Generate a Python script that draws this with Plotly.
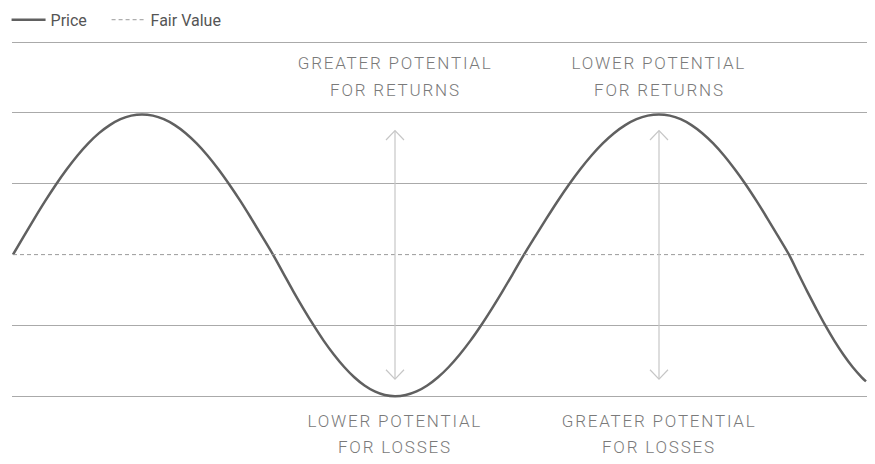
import plotly.graph_objects as go

# ---- data (x in chart units, y relative to fair value) ----
price_x = [0, 10.75, 21.5, 32.25, 43, 53.75, 64.5, 75.25, 86, 96.75, 107.5, 118.25,
           129, 139.9, 150.8, 161.8, 172.7, 183.6, 194.5, 205.4, 216.3, 227.3, 238.2, 249.1,
           260, 270.2, 280.3, 290.5, 300.7, 310.8, 321, 331.2, 341.3, 351.5, 361.7, 371.8,
           382, 392.75, 403.5, 414.25, 425, 435.75, 446.5, 457.25, 468, 478.75, 489.5, 500.25,
           511, 522.25, 533.5, 544.75, 556, 567.25, 578.5, 589.75, 601, 612.25, 623.5, 634.75,
           646, 656.8, 667.7, 678.5, 689.3, 700.2, 711, 721.8, 732.7, 743.5, 754.3, 765.2,
           776, 785.1, 794.2, 803.3, 812.3, 821.4, 830.5, 839.6, 848.7, 853]
price_y = [0, 0.258, 0.512, 0.758, 0.990, 1.205, 1.400, 1.571, 1.715, 1.829, 1.913, 1.963,
           1.980, 1.963, 1.913, 1.829, 1.715, 1.571, 1.400, 1.205, 0.990, 0.758, 0.512, 0.258,
           0, -0.261, -0.518, -0.765, -1.0, -1.218, -1.414, -1.587, -1.732, -1.848, -1.932, -1.983,
           -2.0, -1.983, -1.932, -1.848, -1.732, -1.587, -1.414, -1.218, -1.0, -0.765, -0.518, -0.261,
           0, 0.258, 0.512, 0.758, 0.990, 1.205, 1.400, 1.571, 1.715, 1.829, 1.913, 1.963,
           1.980, 1.963, 1.913, 1.829, 1.715, 1.571, 1.400, 1.205, 0.990, 0.758, 0.512, 0.258,
           0, -0.261, -0.518, -0.765, -1.0, -1.218, -1.414, -1.587, -1.732, -1.79]

fair_x = [0, 862]
fair_y = [0, 0]

grid_levels = [-2, -1, 1, 2, 3]

arrow_x = [382, 646]
arrow_top = 1.75
arrow_bottom = -1.757

top_labels = [["GREATER POTENTIAL", "FOR RETURNS"], ["LOWER POTENTIAL", "FOR RETURNS"]]
bottom_labels = [["LOWER POTENTIAL", "FOR LOSSES"], ["GREATER POTENTIAL", "FOR LOSSES"]]
top_label_y = [2.71, 2.32]
bottom_label_y = [-2.345, -2.72]

# ---- style ----
CURVE = "#606060"
DASH = "#9a9a9a"
GRID = "#aaaaaa"
ARROW = "#c6c6c6"
TEXT = "#7a7a7a"
FONT = "Roboto, Liberation Sans, sans-serif"

fig = go.Figure()

fig.add_trace(go.Scatter(
    x=price_x, y=price_y, mode="lines", name="Price", legend="legend",
    line=dict(color=CURVE, width=2.5, shape="spline", smoothing=1.0, simplify=False),
    hoverinfo="skip"))

fig.add_trace(go.Scatter(
    x=fair_x, y=fair_y, mode="lines", name="Fair Value", legend="legend2",
    line=dict(color=DASH, width=1, dash="4px,3px"),
    hoverinfo="skip"))

# arrows: shaft + chevrons
ch_w = 9
ch_h = 0.131
for ax in arrow_x:
    fig.add_trace(go.Scatter(
        x=[ax, ax], y=[arrow_bottom, arrow_top], mode="lines",
        line=dict(color=ARROW, width=1.2), showlegend=False, hoverinfo="skip"))
    fig.add_trace(go.Scatter(
        x=[ax - ch_w, ax, ax + ch_w], y=[arrow_top - ch_h, arrow_top, arrow_top - ch_h],
        mode="lines", line=dict(color=ARROW, width=1.2), showlegend=False, hoverinfo="skip"))
    fig.add_trace(go.Scatter(
        x=[ax - ch_w, ax, ax + ch_w], y=[arrow_bottom + ch_h, arrow_bottom, arrow_bottom + ch_h],
        mode="lines", line=dict(color=ARROW, width=1.2), showlegend=False, hoverinfo="skip"))

annotations = []
for ax, lines in zip(arrow_x, top_labels):
    for ly, txt in zip(top_label_y, lines):
        annotations.append(dict(x=ax, y=ly, xref="x", yref="y", text=txt, showarrow=False,
                                xanchor="center", yanchor="middle",
                                font=dict(family=FONT, size=17, color=TEXT, weight=300)))
for ax, lines in zip(arrow_x, bottom_labels):
    for ly, txt in zip(bottom_label_y, lines):
        annotations.append(dict(x=ax, y=ly, xref="x", yref="y", text=txt, showarrow=False,
                                xanchor="center", yanchor="middle",
                                font=dict(family=FONT, size=17, color=TEXT, weight=300)))

legend_style = dict(orientation="h", yanchor="top", xanchor="left", y=1.0583,
                    itemwidth=34,
                    font=dict(family=FONT, size=16, color="#555555"),
                    bgcolor="rgba(0,0,0,0)", borderwidth=0)

# the page adds an 8px body margin, so the figure is sized / offset to compensate
fig.update_layout(
    width=867, height=456,
    margin=dict(l=4, r=0, t=20, b=4, autoexpand=False),
    paper_bgcolor="white", plot_bgcolor="white",
    showlegend=True,
    legend=dict(x=-0.0063, **legend_style),
    legend2=dict(x=0.1096, **legend_style),
    xaxis=dict(range=[-1, 862], showgrid=False, zeroline=False, showticklabels=False,
               showline=False, ticks="", fixedrange=True),
    yaxis=dict(range=[-2.9, 3.2], tickvals=grid_levels, showgrid=True, gridcolor=GRID,
               gridwidth=1, zeroline=False, showticklabels=False, showline=False, ticks="",
               fixedrange=True),
    annotations=annotations,
    hovermode=False,
)

post = """
var gd = document.getElementById('{plot_id}');
function spaceLetters() {
  gd.querySelectorAll('.annotation-text').forEach(function (e) {
    e.style.letterSpacing = '1.8px';
  });
}
spaceLetters();
gd.on('plotly_afterplot', spaceLetters);
"""

fig.write_html("out.html", config={"displayModeBar": False}, post_script=post)
